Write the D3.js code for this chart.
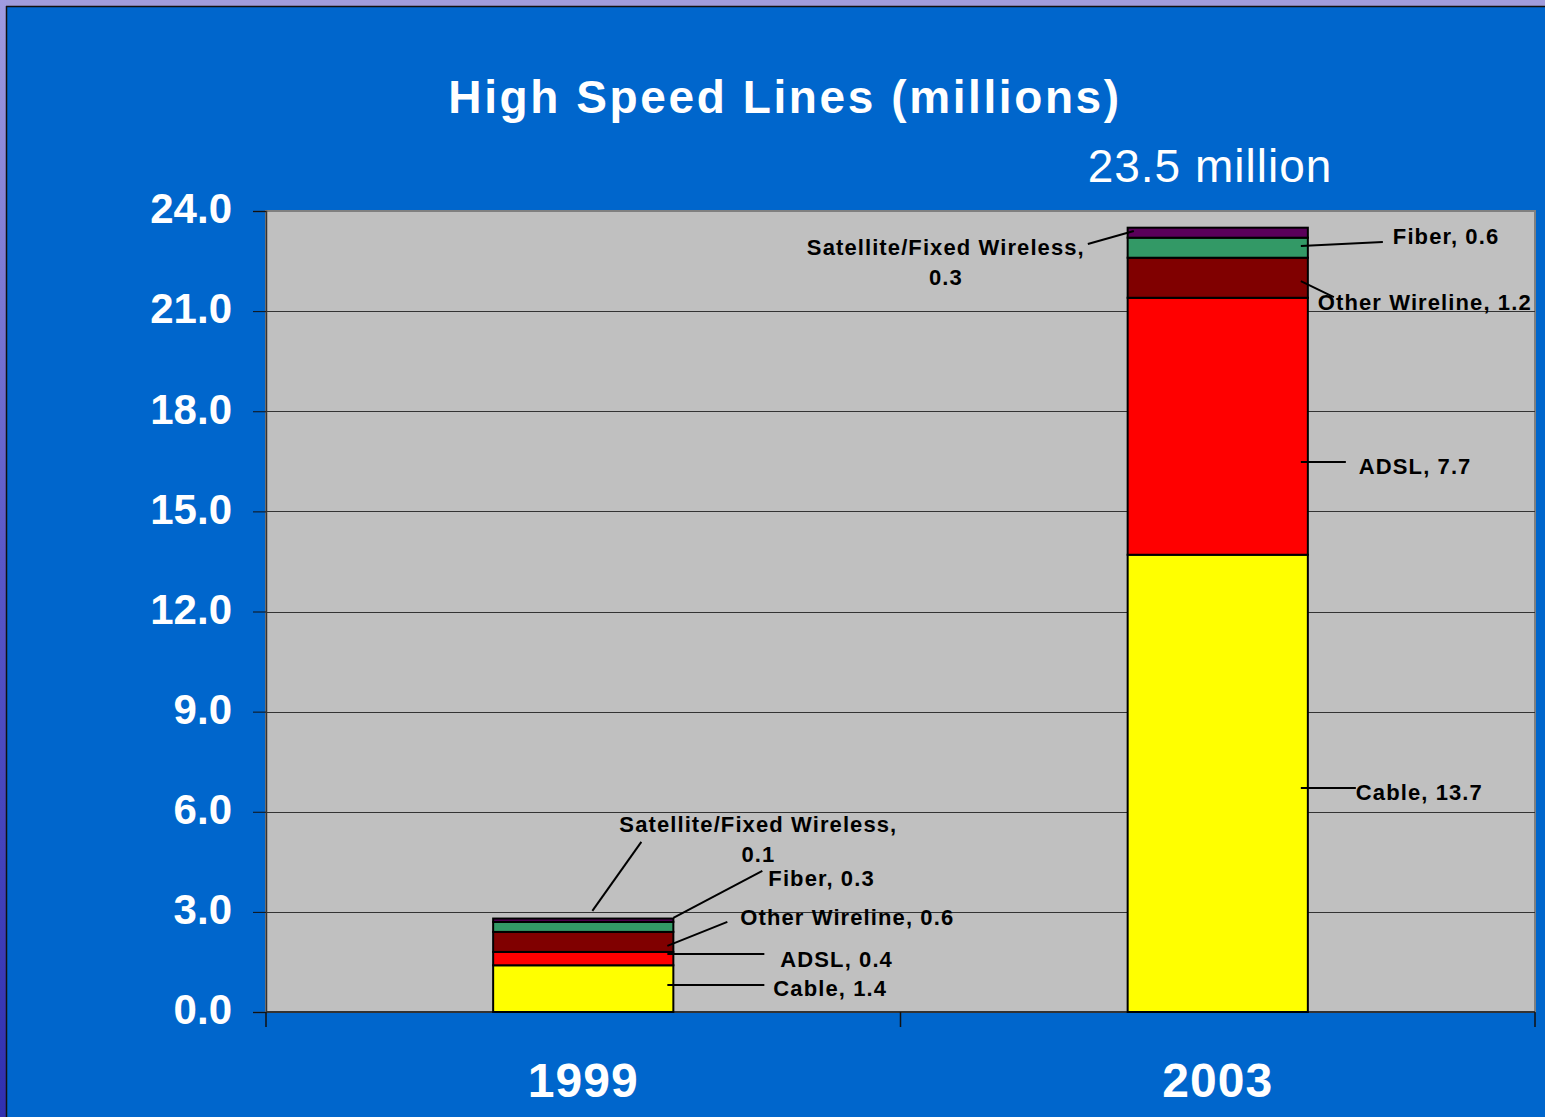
<!DOCTYPE html>
<html>
<head>
<meta charset="utf-8">
<script src="https://cdn.jsdelivr.net/npm/d3@7/dist/d3.min.js"></script>
<style>
  html, body { margin: 0; padding: 0; background: #0066CC; overflow: hidden; }
  svg { display: block; }
  text { font-family: "Liberation Sans", Arial, sans-serif; }
</style>
</head>
<body>
<svg id="chart" width="1545" height="1117"></svg>
<script>
// ---------------- DATA ----------------
const years = ["1999", "2003"];
const seriesNames = ["Cable", "ADSL", "Other Wireline", "Fiber", "Satellite/Fixed Wireless"];
const cable = [1.4, 13.7];
const adsl = [0.4, 7.7];
const otherWireline = [0.6, 1.2];
const fiber = [0.3, 0.6];
const satellite = [0.1, 0.3];
const yTicks = [0, 3, 6, 9, 12, 15, 18, 21, 24];
const titleText = "High Speed Lines (millions)";
const totalText = "23.5 million";

// ---------------- STYLE / LAYOUT ----------------
const colors = ["#FFFF00", "#FF0000", "#800000", "#339966", "#5A005A"];
const W = 1545, H = 1117;
const plot = { left: 266, right: 1535, top: 211, bottom: 1012 };

// label leader layout: [yearIndex][seriesIndex]
const labelLayout = [
  [ // 1999
    { sv: 0.81, sx: -6, ex: 91, ey: 0,   tx: 100, ty: 11, anchor: "start" },
    { sv: 1.74, sx: -6, ex: 91, ey: 0,   tx: 107, ty: 13, anchor: "start" },
    { sv: 1.98, sx: -6, ex: 54, ey: -24, tx: 67,  ty: -21, anchor: "start" },
    { sv: 2.82, sx: 0,  ex: 89, ey: -47, tx: 95,  ty: -32, anchor: "start" },
    { sv: 3.03, sx: -81, ex: -32, ey: -69, tx: 85, ty: -79, anchor: "middle", two: true }
  ],
  [ // 2003
    { sv: 6.71,  sx: -7, ex: 48, ey: 0,   tx: 48, ty: 12, anchor: "start" },
    { sv: 16.48, sx: -7, ex: 38, ey: 0,   tx: 51, ty: 12, anchor: "start" },
    { sv: 21.90, sx: -7, ex: 26, ey: 16,  tx: 10, ty: 29, anchor: "start" },
    { sv: 22.95, sx: -7, ex: 75, ey: -4,  tx: 85, ty: -2, anchor: "start" },
    { sv: 23.4,  sx: -174, ex: -220, ey: 13, tx: -362, ty: 24, anchor: "middle", two: true }
  ]
];

const svg = d3.select("#chart");

// background
const defs = svg.append("defs");
const lg = defs.append("linearGradient").attr("id", "leftEdge").attr("x1", 0).attr("y1", 0).attr("x2", 0).attr("y2", 1);
lg.append("stop").attr("offset", "0%").attr("stop-color", "#A09CE0");
lg.append("stop").attr("offset", "50%").attr("stop-color", "#5A58C8");
lg.append("stop").attr("offset", "100%").attr("stop-color", "#3030B0");
svg.append("rect").attr("x", 0).attr("y", 0).attr("width", W).attr("height", H).attr("fill", "#0066CC");
svg.append("rect").attr("x", 0).attr("y", 0).attr("width", W).attr("height", 6).attr("fill", "#A09CDC");
svg.append("rect").attr("x", 0).attr("y", 0).attr("width", 6).attr("height", H).attr("fill", "url(#leftEdge)");
svg.append("line").attr("x1", 6).attr("x2", W).attr("y1", 6.5).attr("y2", 6.5).attr("stroke", "#111").attr("stroke-width", 1.5);
svg.append("line").attr("x1", 6.5).attr("x2", 6.5).attr("y1", 6).attr("y2", H).attr("stroke", "#111").attr("stroke-width", 1.5);

// scales
const x = d3.scaleBand().domain(years).range([plot.left, plot.right]).paddingInner(0.716).paddingOuter(0.358);
const xCat = d3.scaleBand().domain(years).range([plot.left, plot.right]);
const y = d3.scaleLinear().domain([0, 24]).range([plot.bottom, plot.top]);

// plot area
svg.append("rect").attr("x", plot.left).attr("y", plot.top)
  .attr("width", plot.right - plot.left).attr("height", plot.bottom - plot.top)
  .attr("fill", "#C0C0C0").attr("stroke", "#808080").attr("stroke-width", 2);

// gridlines
svg.append("g").selectAll("line").data(yTicks.filter(t => t > 0 && t < 24)).join("line")
  .attr("x1", plot.left).attr("x2", plot.right)
  .attr("y1", d => Math.round(y(d)) + 0.5).attr("y2", d => Math.round(y(d)) + 0.5)
  .attr("stroke", "#333").attr("stroke-width", 1);

// y axis
const yAxis = d3.axisLeft(y).tickValues(yTicks).tickSize(13).tickPadding(21).tickFormat(d3.format(".1f"));
const gy = svg.append("g").attr("transform", `translate(${plot.left},0)`).call(yAxis);
gy.select(".domain").attr("stroke", "#333").attr("stroke-width", 1.5);
gy.selectAll(".tick line").attr("stroke", "#111");
gy.selectAll(".tick text").attr("fill", "#fff").attr("font-size", 42).attr("font-weight", "bold")
  .attr("font-family", "Liberation Sans, Arial, sans-serif").attr("dy", "0.28em");

// x axis
const gx = svg.append("g").attr("transform", `translate(0,${plot.bottom})`);
gx.append("line").attr("x1", plot.left).attr("x2", plot.right).attr("y1", 0).attr("y2", 0)
  .attr("stroke", "#333").attr("stroke-width", 2);
const catEdges = [xCat(years[0]), xCat(years[1]), xCat(years[1]) + xCat.bandwidth()];
gx.selectAll("line.tk").data(catEdges).join("line").attr("class", "tk")
  .attr("x1", d => d).attr("x2", d => d).attr("y1", 0).attr("y2", 15)
  .attr("stroke", "#111").attr("stroke-width", 1.5);
gx.selectAll("text").data(years).join("text")
  .attr("x", d => x(d) + x.bandwidth() / 2).attr("y", 85)
  .attr("text-anchor", "middle").attr("fill", "#fff").attr("font-size", 48).attr("font-weight", "bold")
  .attr("letter-spacing", 1)
  .text(d => d);

// stacked data
const table = years.map((yr, i) => ({
  year: yr,
  "Cable": cable[i], "ADSL": adsl[i], "Other Wireline": otherWireline[i],
  "Fiber": fiber[i], "Satellite/Fixed Wireless": satellite[i]
}));
const stacked = d3.stack().keys(seriesNames)(table);

const gBars = svg.append("g");
stacked.forEach((layer, si) => {
  gBars.selectAll(null).data(layer).join("rect")
    .attr("x", d => x(d.data.year))
    .attr("y", d => y(d[1]))
    .attr("width", x.bandwidth())
    .attr("height", d => y(d[0]) - y(d[1]))
    .attr("fill", colors[si])
    .attr("stroke", "#000").attr("stroke-width", 2);
});

// labels
const gLab = svg.append("g");
years.forEach((yr, yi) => {
  const xr = x(yr) + x.bandwidth();
  seriesNames.forEach((name, si) => {
    const L = labelLayout[yi][si];
    const val = stacked[si][yi].data[name];
    const sx = xr + L.sx, sy = y(L.sv);
    gLab.append("line").attr("x1", sx).attr("y1", sy).attr("x2", xr + L.ex).attr("y2", sy + L.ey)
      .attr("stroke", "#000").attr("stroke-width", 2);
    const t = gLab.append("text").attr("x", xr + L.tx).attr("y", sy + L.ty)
      .attr("text-anchor", L.anchor).attr("font-size", 22).attr("font-weight", "bold")
      .attr("letter-spacing", 1.1).attr("fill", "#000");
    if (L.two) {
      t.text(name + ",");
      gLab.append("text").attr("x", xr + L.tx).attr("y", sy + L.ty + 30)
        .attr("text-anchor", "middle").attr("font-size", 22).attr("font-weight", "bold")
        .attr("letter-spacing", 1.1).attr("fill", "#000").text(d3.format(".1f")(val));
    } else {
      t.text(name + ", " + d3.format(".1f")(val));
    }
  });
});

// title
svg.append("text").attr("x", 785).attr("y", 113).attr("text-anchor", "middle")
  .attr("fill", "#fff").attr("font-size", 46).attr("font-weight", "bold").attr("letter-spacing", 2.6)
  .text(titleText);
svg.append("text").attr("x", 1210).attr("y", 182).attr("text-anchor", "middle")
  .attr("fill", "#fff").attr("font-size", 46).attr("letter-spacing", 1)
  .text(totalText);
</script>
</body>
</html>
